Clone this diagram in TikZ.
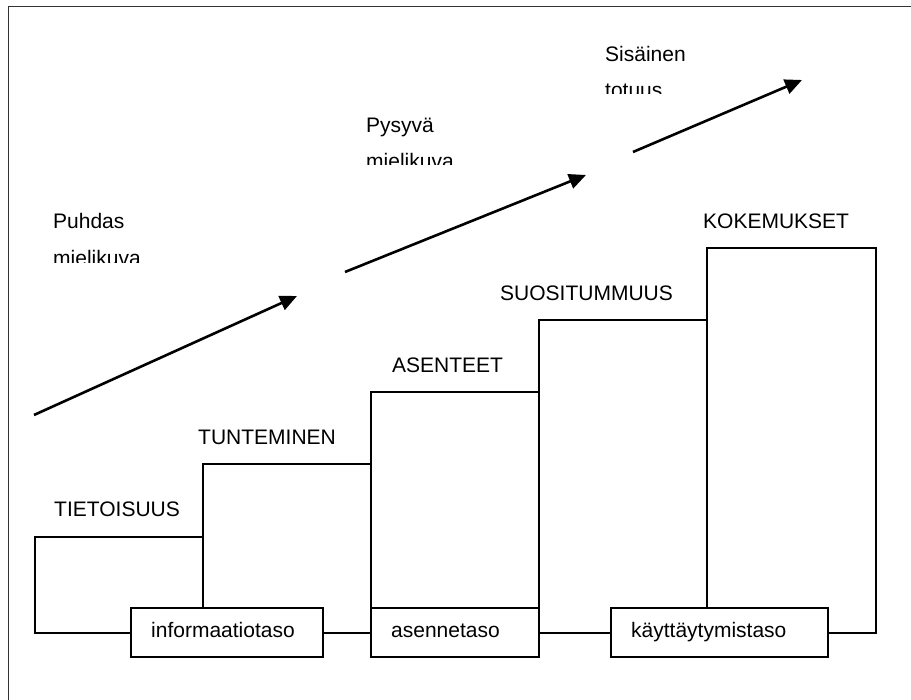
\documentclass[tikz,border=0pt]{standalone}
\usepackage{fontspec}
\setmainfont{Liberation Sans}
\usetikzlibrary{arrows.meta}
\begin{document}
\begin{tikzpicture}[x=1pt,y=-1pt,
  bar/.style={draw, line width=2pt, fill=none, inner sep=0pt, anchor=north west},
  lvlbox/.style={draw, line width=2pt, fill=white, inner sep=0pt, anchor=north west, minimum height=49pt},
  txt/.style={inner sep=0pt, anchor=base west, font=\fontsize{21pt}{25pt}\selectfont},
  arr/.style={line width=2.6pt, -{Triangle[length=17pt,width=15pt]}},
  frame/.style={line width=1.5pt, draw=black!80}]
\useasboundingbox (0,0) rectangle (911,700);
% frame (cropped on the right and bottom)
\draw[frame] (8.5,700) -- (8.5,6.5) -- (911,6.5);
% bars
\node[bar, minimum width=168pt, minimum height=96pt]  (b1) at (34,536) {};
\node[bar, minimum width=168pt, minimum height=169pt] (b2) at (202,463) {};
\node[bar, minimum width=168pt, minimum height=241pt] (b3) at (370,391) {};
\node[bar, minimum width=168pt, minimum height=313pt] (b4) at (538,319) {};
\node[bar, minimum width=169pt, minimum height=385pt] (b5) at (706,247) {};
% bar labels
\node[txt] (l1) at (54,517) {TIETOISUUS};
\node[txt] (l2) at (198,445) {TUNTEMINEN};
\node[txt] (l3) at (392,373) {ASENTEET};
\node[txt] (l4) at (500,301) {SUOSITUMMUUS};
\node[txt] (l5) at (703,229) {KOKEMUKSET};
% level boxes
\node[lvlbox, minimum width=192pt] (info) at (130,607) {};
\node[lvlbox, minimum width=168pt] (asen) at (370,607) {};
\node[lvlbox, minimum width=217pt] (kayt) at (610,607) {};
\node[txt] (infot) at (151,637) {informaatiotaso};
\node[txt] (asent) at (391,637) {asennetaso};
\node[txt] (kaytt) at (631,637) {käyttäytymistaso};
% upper labels (text boxes clipped)
\node[txt] (p1) at (53,229) {Puhdas};
\begin{scope}
  \clip (40,236) rectangle (260,263);
  \node[txt] (p2) at (53,266) {mielikuva};
\end{scope}
\node[txt] (q1) at (366,133) {Pysyvä};
\begin{scope}
  \clip (350,140) rectangle (560,165);
  \node[txt] (q2) at (366,169) {mielikuva};
\end{scope}
\node[txt] (s1) at (605,62) {Sisäinen};
\begin{scope}
  \clip (590,69) rectangle (800,94);
  \node[txt] (s2) at (605,98) {totuus};
\end{scope}
% arrows
\coordinate (a1s) at (34,415);  \coordinate (a1e) at (297,296);
\coordinate (a2s) at (345,272); \coordinate (a2e) at (586,175);
\coordinate (a3s) at (633,152); \coordinate (a3e) at (802,80);
\draw[arr] (a1s) -- (a1e);
\draw[arr] (a2s) -- (a2e);
\draw[arr] (a3s) -- (a3e);
\end{tikzpicture}
\end{document}
